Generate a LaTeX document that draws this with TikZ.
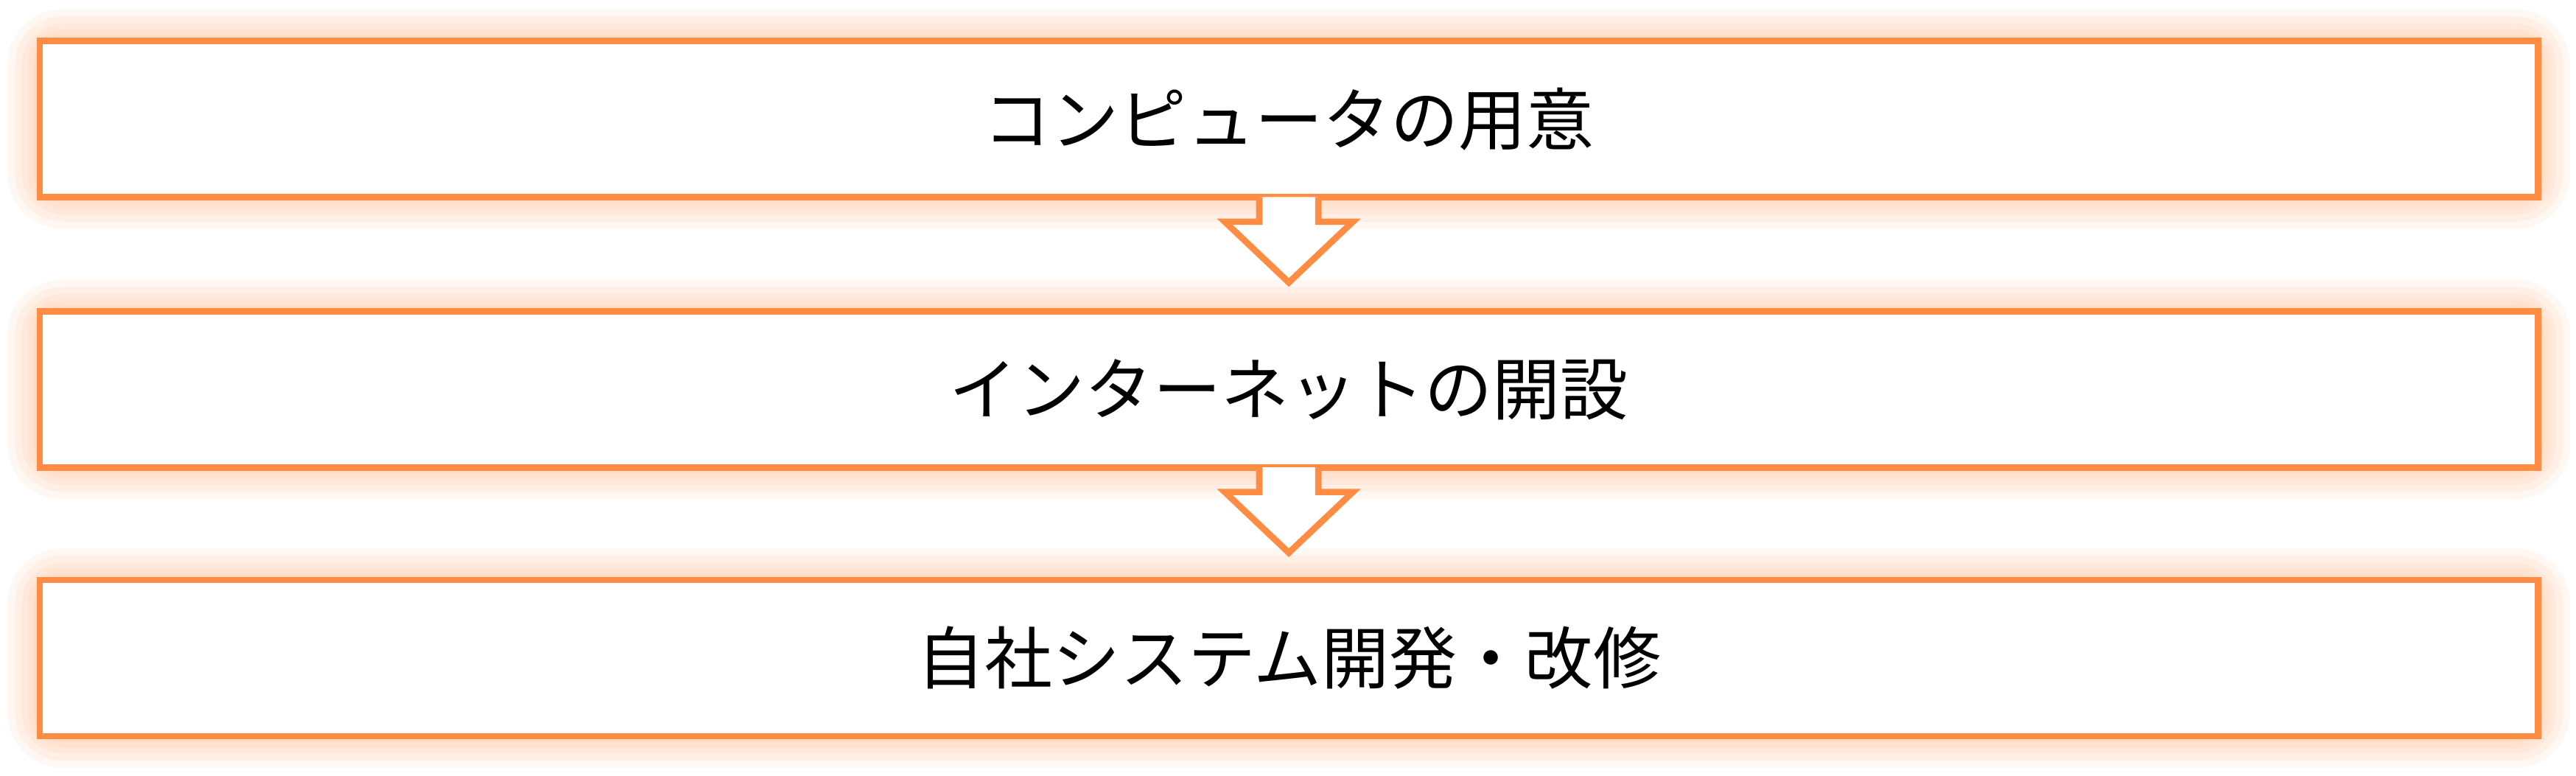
\documentclass[tikz,border=0pt]{standalone}
\usepackage{fontspec}
\usetikzlibrary{calc}
\newfontfamily\cjk{Noto Sans CJK JP}
\definecolor{org}{RGB}{255,140,66}
\begin{document}
\begin{tikzpicture}[x=0.02cm,y=-0.02cm,
  glow/.style={draw=org,line width=#1,opacity=0.07,rounded corners=8pt},
  boxs/.style={draw=org,line width=2.2pt,fill=white,minimum width=30.42cm,minimum height=1.9cm,inner sep=0pt,font=\cjk\fontsize{23.5}{28}\selectfont},
  arr/.style={draw=org,line width=2.2pt,fill=white,line join=miter}]
\useasboundingbox (0,0) rectangle (1568,472);
\foreach \yc/\nm/\tx in {72.5/b1/コンピュータの用意, 237/b2/インターネットの開設, 400.5/b3/自社システム開発・改修}{
  \foreach \w in {22,17,12,8,4}{\draw[glow=\w pt] (24,\yc-47.5) rectangle (1545,\yc+47.5);}
  \node[boxs] (\nm) at (784.5,\yc) {\tx};
}
\foreach \a in {b1,b2}{
  \draw[arr] ($(\a.south)+(-18,-2)$) -- ($(\a.south)+(-18,13)$) -- ($(\a.south)+(-39,13)$) -- ($(\a.south)+(0,50)$) -- ($(\a.south)+(39,13)$) -- ($(\a.south)+(18,13)$) -- ($(\a.south)+(18,-2)$);
}
\end{tikzpicture}
\end{document}
